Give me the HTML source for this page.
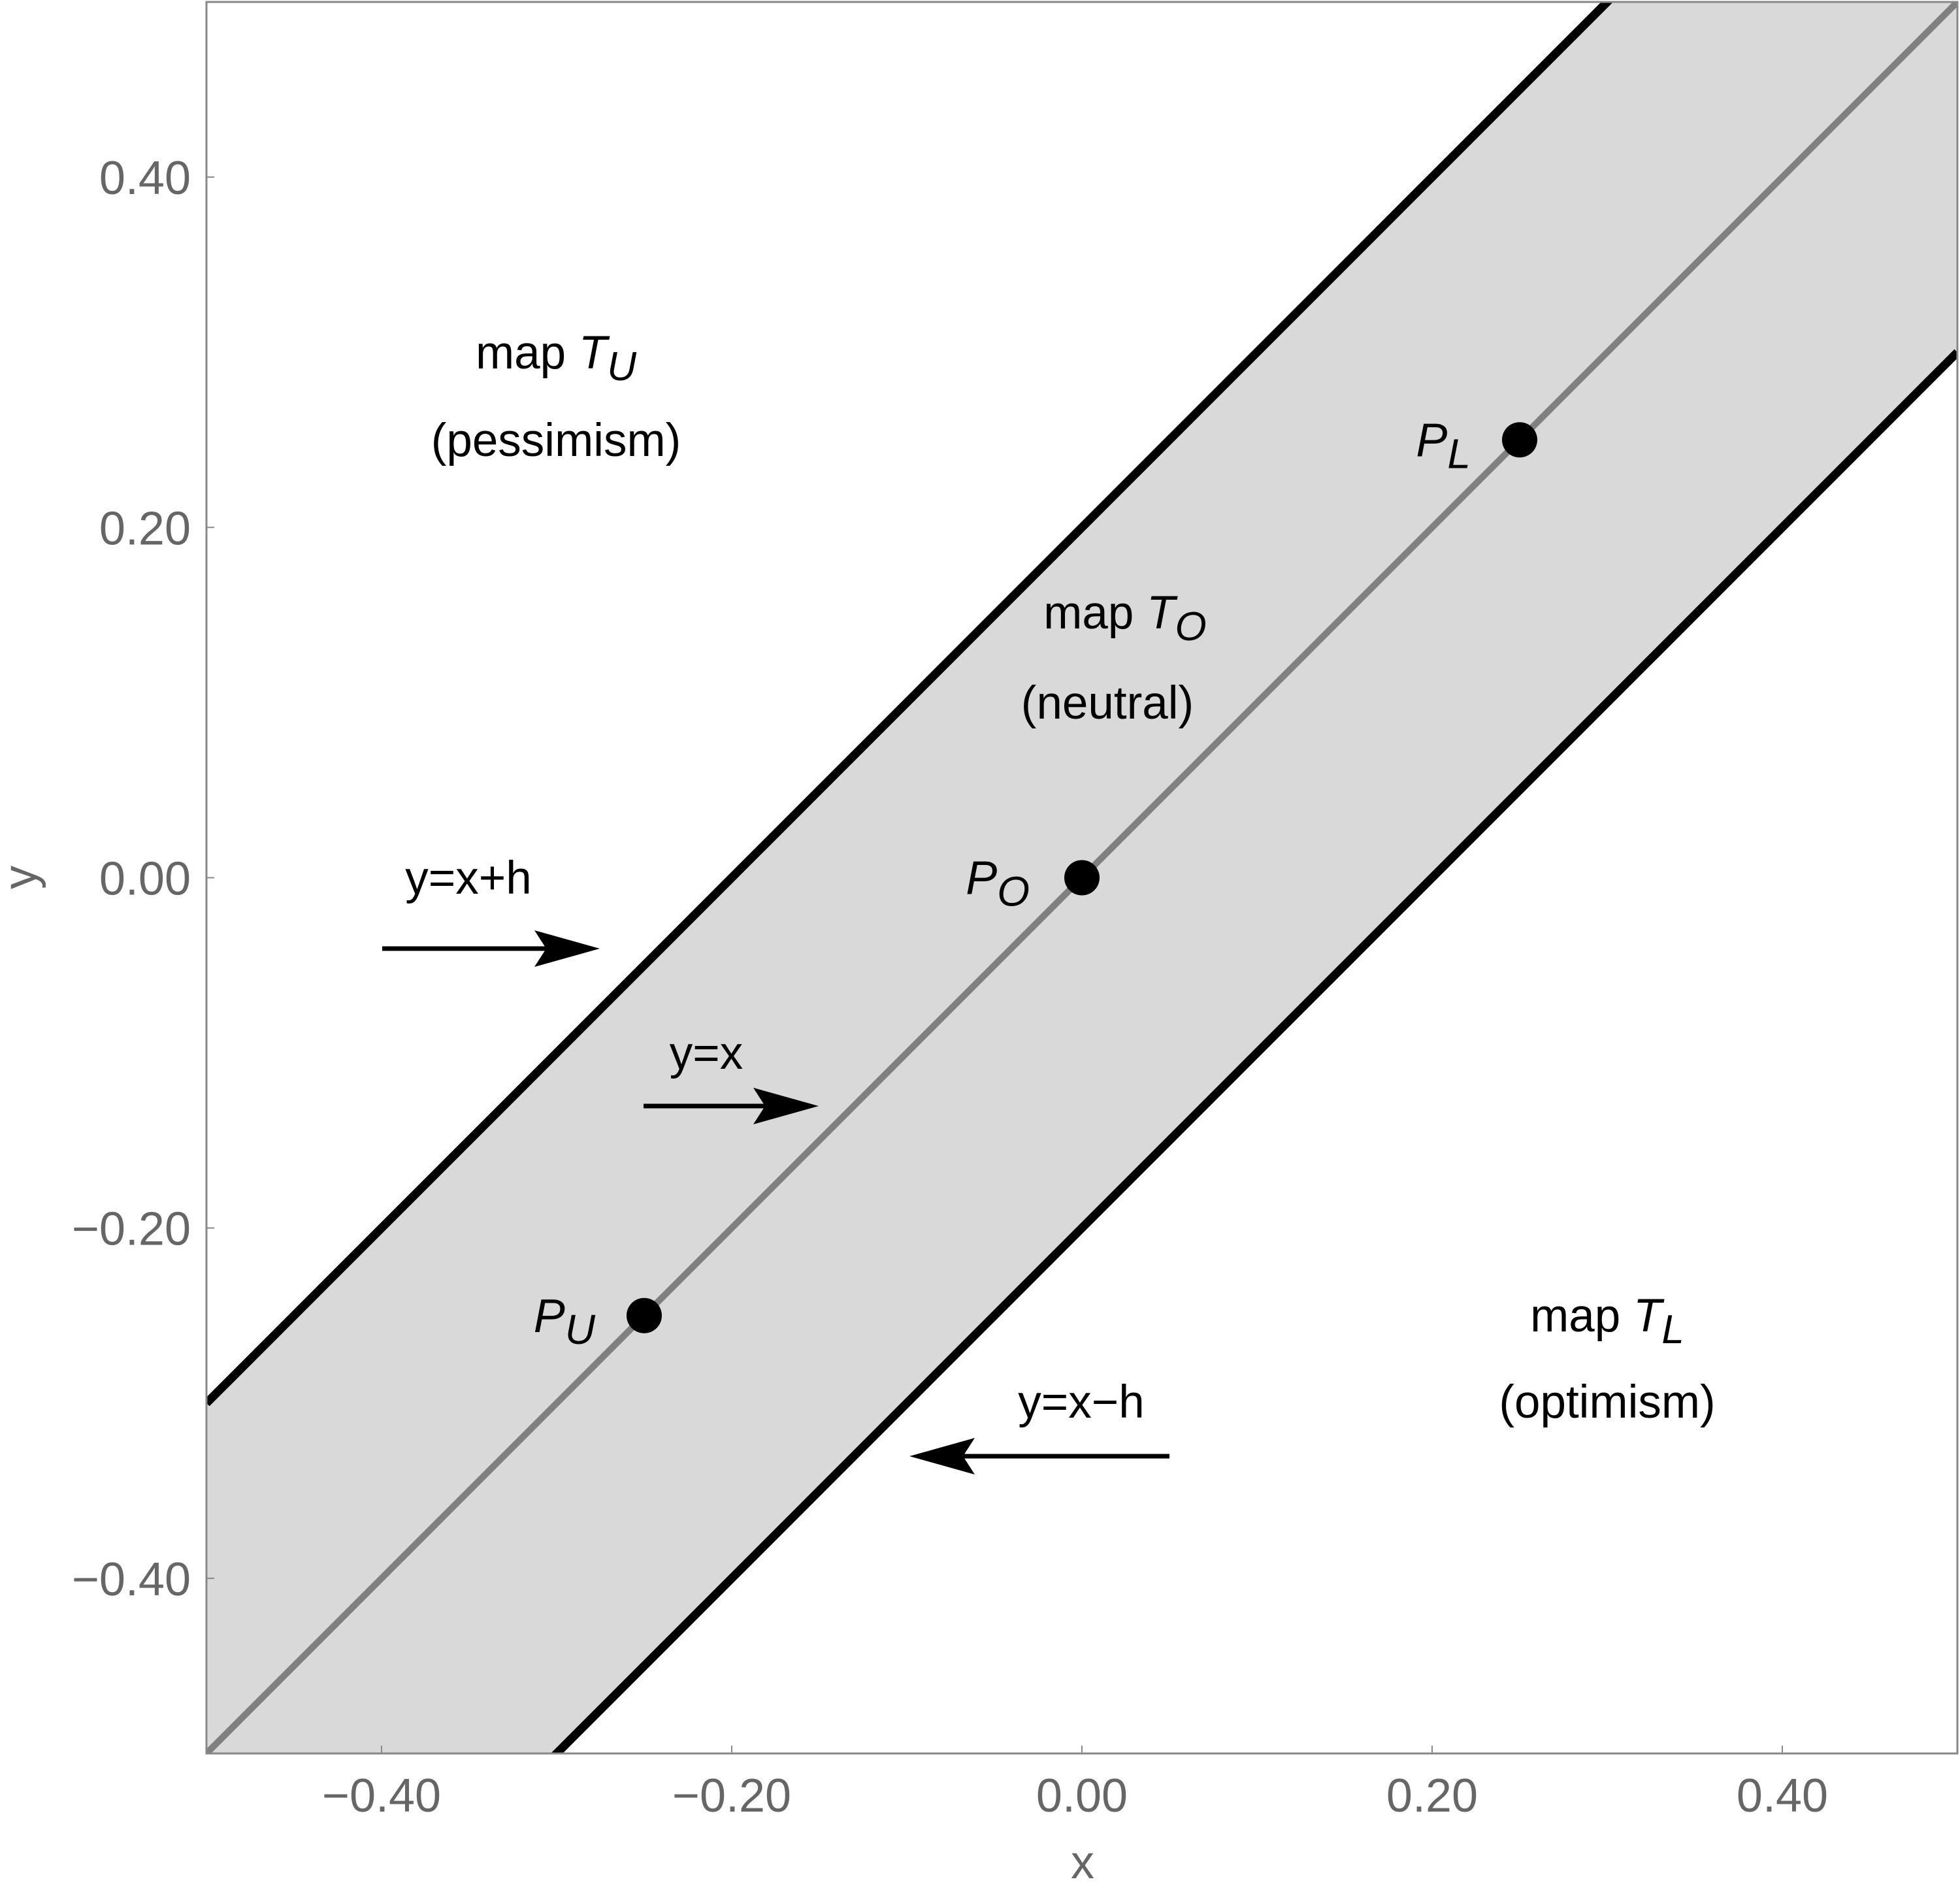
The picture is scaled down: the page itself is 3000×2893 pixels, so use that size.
<!DOCTYPE html>
<html><head><meta charset="utf-8">
<style>
html,body{margin:0;padding:0;background:#fff;overflow:hidden;width:3000px;height:2893px;}
svg{display:block;font-family:"Liberation Sans",Arial,sans-serif;}
</style></head>
<body>
<svg id="chart" width="3000" height="2893" viewBox="0 0 3000 2893" xmlns="http://www.w3.org/2000/svg"></svg>
<script>
const xTicks = [-0.4, -0.2, 0, 0.2, 0.4];
const yTicks = [-0.4, -0.2, 0, 0.2, 0.4];
const xTickLabels = ["\u22120.40", "\u22120.20", "0.00", "0.20", "0.40"];
const yTickLabels = ["\u22120.40", "\u22120.20", "0.00", "0.20", "0.40"];
const hBand = [0.2];
const pointNames = ["U", "O", "L"];
const pointX = [-0.25, 0, 0.25];
const pointY = [-0.25, 0, 0.25];

const NS = "http://www.w3.org/2000/svg";
const svg = document.getElementById('chart');
const L = 316, R = 2996, T = 3, B = 2684;
const sx = v => L + (v + 0.5) * (R - L);
const sy = v => B - (v + 0.5) * (B - T);
function mk(tag, attrs, parent) {
  const e = document.createElementNS(NS, tag);
  for (const k in attrs) e.setAttribute(k, attrs[k]);
  (parent || svg).appendChild(e);
  return e;
}
const defs = mk('defs', {});
const cp = mk('clipPath', {id: 'plotclip'}, defs);
mk('rect', {x: L, y: T, width: R - L, height: B - T}, cp);

const g = mk('g', {'clip-path': 'url(#plotclip)'});


const h = hBand[0];
const band = mk('polygon', {
  points: [[-0.5, -0.5 + h], [0.5, 0.5 + h], [0.5, 0.5 - h], [-0.5, -0.5 - h]]
    .map(p => sx(p[0]) + ',' + sy(p[1])).join(' '),
  fill: '#d9d9d9'
}, g);



const diag = mk('line', {x1: sx(-0.5), y1: sy(-0.5), x2: sx(0.5), y2: sy(0.5), stroke: '#808080', 'stroke-width': 10}, g);


const up = mk('line', {x1: sx(-0.5), y1: sy(-0.5 + h), x2: sx(0.5), y2: sy(0.5 + h), stroke: '#000', 'stroke-width': 13}, g);


const lo = mk('line', {x1: sx(-0.5), y1: sy(-0.5 - h), x2: sx(0.5), y2: sy(0.5 - h), stroke: '#000', 'stroke-width': 13}, g);



const frame = mk('rect', {x: L, y: T, width: R - L, height: B - T, fill: 'none', stroke: '#888', 'stroke-width': 3});



xTicks.forEach((v, i) => {
  const t = mk('line', {x1: sx(v), y1: B, x2: sx(v), y2: B - 12, stroke: '#888', 'stroke-width': 2});
  
  
  const lb = mk('text', {x: sx(v), y: 2773, 'text-anchor': 'middle', 'font-size': 72, fill: '#666'});
  lb.textContent = xTickLabels[i];
  
  
});
yTicks.forEach((v, i) => {
  const t = mk('line', {x1: L, y1: sy(v), x2: L + 12, y2: sy(v), stroke: '#888', 'stroke-width': 2});
  
  
  const lb = mk('text', {x: 292, y: sy(v) + 26, 'text-anchor': 'end', 'font-size': 72, fill: '#666'});
  lb.textContent = yTickLabels[i];
  
  
});
const xt = mk('text', {x: 1657, y: 2875, 'text-anchor': 'middle', 'font-size': 72, fill: '#666'});
xt.textContent = 'x';


const yt = mk('text', {x: 0, y: 0, 'text-anchor': 'middle', 'font-size': 72, fill: '#666', transform: 'translate(55,1343) rotate(-90)'});
yt.textContent = 'y';



const labelDX = [-75, -80, -75];
pointNames.forEach((n, i) => {
  const c = mk('circle', {cx: sx(pointX[i]), cy: sy(pointY[i]), r: 27, fill: '#000'});
  
  
  const t = mk('text', {x: sx(pointX[i]) + labelDX[i], y: sy(pointY[i]) + 25, 'text-anchor': 'end', 'font-size': 72, fill: '#000'});
  t.innerHTML = '<tspan font-style="italic">P</tspan><tspan font-style="italic" font-size="64" dy="18">' + n + '</tspan>';
  
  
});

function label(x, y, html, name) {
  const t = mk('text', {x: x, y: y, 'text-anchor': 'middle', 'font-size': 71, fill: '#000'});
  t.innerHTML = html;
  
  
}
label(851, 564, 'map <tspan font-style="italic">T</tspan><tspan font-style="italic" font-size="62" dy="18">U</tspan>', 'label-map-tu');
label(851, 698, '(pessimism)', 'label-pessimism');
label(1722, 962, 'map <tspan font-style="italic">T</tspan><tspan font-style="italic" font-size="62" dy="18">O</tspan>', 'label-map-to');
label(1695, 1100, '(neutral)', 'label-neutral');
label(2460, 2038, 'map <tspan font-style="italic">T</tspan><tspan font-style="italic" font-size="62" dy="18">L</tspan>', 'label-map-tl');
label(2460, 2170, '(optimism)', 'label-optimism');
label(717, 1368, 'y=x+h', 'label-y-x-plus-h');
label(1081, 1636, 'y=x', 'label-y-x');
label(1655, 2170, 'y=x\u2212h', 'label-y-x-minus-h');

function arrow(x1, x2, y, name) {
  const dir = Math.sign(x2 - x1);
  const hl = 100, hw = 28, notch = 18;
  const ln = mk('line', {x1: x1, y1: y, x2: x2 - dir * (hl - notch), y2: y, stroke: '#000', 'stroke-width': 7});
  
  
  const p = mk('polygon', {points: [
    [x2, y], [x2 - dir * hl, y - hw], [x2 - dir * (hl - notch), y], [x2 - dir * hl, y + hw]
  ].map(q => q.join(',')).join(' '), fill: '#000'});
  
  
}
arrow(585, 918, 1452, 'arrow-y-x-plus-h');
arrow(985, 1253, 1693, 'arrow-y-x');
arrow(1790, 1392, 2229, 'arrow-y-x-minus-h');
</script>
</body></html>
